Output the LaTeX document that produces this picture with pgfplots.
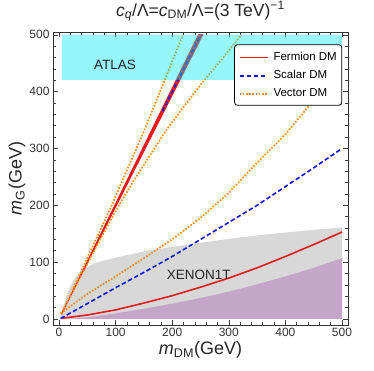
\documentclass[border=0pt]{standalone}
\usepackage{pgfplots}
\pgfplotsset{compat=1.18}
\usepackage{fontspec}
\setmainfont{Liberation Sans}
\definecolor{fred}{RGB}{230,25,25}
\definecolor{sblue}{RGB}{20,20,245}
\definecolor{vorange}{RGB}{255,140,0}
\definecolor{xgrey}{RGB}{216,216,216}
\definecolor{xpurple}{RGB}{196,166,200}
\definecolor{atlas}{RGB}{0,232,244}
\newcommand{\keysolid}{\textcolor{fred}{\rule[0.35ex]{28pt}{1.6pt}}}
\newcommand{\dsh}{\rule[0.35ex]{4.5pt}{1.6pt}}
\newcommand{\keydash}{\textcolor{sblue}{\dsh\hspace{2.6pt}\dsh\hspace{2.6pt}\dsh\hspace{2.6pt}\dsh}}
\newcommand{\dt}{\rule[0.35ex]{1.6pt}{1.6pt}}
\newcommand{\dg}{\hspace{1.6pt}}
\newcommand{\keydot}{\textcolor{vorange}{\dt\dg\dt\dg\dt\dg\dt\dg\dt\dg\dt\dg\dt\dg\dt\dg\dt}}
\begin{document}
\begin{tikzpicture}
\path[use as bounding box] (0,0) rectangle (374pt,370pt);
\begin{axis}[at={(53pt,45pt)}, anchor=south west, scale only axis,
  width=295pt, height=293pt,
  xmin=-10.6, xmax=510.6, ymin=-10.6, ymax=505,
  xtick={0,100,...,500}, ytick={0,100,...,500},
  minor x tick num=4, minor y tick num=4,
  tick align=inside,
  major tick length=5pt, minor tick length=3pt,
  tick style={black!75, line width=0.6pt},
  axis line style={black!80, line width=0.8pt},
  tick label style={font=\fontsize{12}{14}\selectfont, text=black!80},
  /pgf/number format/assume math mode=true,
  xlabel={\textit{m}\textsubscript{DM}(GeV)},
  ylabel={\textit{m}\textsubscript{G}(GeV)},
  label style={font=\fontsize{18}{20}\selectfont, text=black!85},
  xlabel style={at={(axis description cs:0.5,-0.085)}, anchor=center},
  ylabel style={at={(axis description cs:-0.122,0.5)}, anchor=center},
  title={\textit{c}\textsubscript{\textit{q}}/Λ=\textit{c}\textsubscript{DM}/Λ=(3 TeV)\textsuperscript{−1}},
  title style={at={(axis description cs:0.5,1.05)}, anchor=center, font=\fontsize{17.5}{19}\selectfont, text=black!85},
]
% XENON1T grey region
\addplot[draw=none, fill=xgrey, forget plot] coordinates {
(2,0) (5,8) (8,20) (13,40) (19,56) (28,72) (41,86) (60,97) (80,103) (100,108) (150,119) (200,127) (250,134) (300,141) (350,147) (400,152) (450,157) (500,161) (500,0)} --cycle;
% purple region
\addplot[draw=none, fill=xpurple, forget plot] coordinates {
(12,0) (50,3) (100,10) (150,18) (200,27) (250,37) (300,48) (350,61) (400,75) (450,90) (500,107) (500,0)} --cycle;
% fermion resonance band
\addplot[draw=fred, fill=fred, line width=1pt, forget plot] coordinates {
(5,9.85) (246.3,500) (253.8,500) (5,10.15)} --cycle;
% vector DM lines near resonance
\addplot[vorange, line width=1.7pt, dash pattern=on 1.6pt off 1.6pt, forget plot] coordinates {
(4,9) (30,64) (60,129) (90,193) (120,262) (150,330) (180,404) (200,453) (219,500)};
\addplot[vorange, line width=1.7pt, dash pattern=on 1.6pt off 1.6pt, forget plot] coordinates {
(4,9) (30,59) (60,116) (100,190) (130,240) (160,287) (190,333) (220,373) (254,417) (290,460) (322,500)};
% scalar DM along resonance
\addplot[sblue, line width=1.5pt, dash pattern=on 4pt off 2.5pt, forget plot] coordinates {
(183,366) (250,500)};
% main curves
\addplot[color=fred, line width=1.6pt, forget plot] coordinates {
(3,1) (50,7) (100,16) (150,28) (200,41) (250,56) (300,72) (350,90) (400,110) (450,131) (500,153)};
\addplot[color=sblue, line width=1.6pt, dash pattern=on 4.5pt off 2.5pt, forget plot] coordinates {
(3,1) (50,27) (100,55) (150,82) (200,110) (250,140) (300,170) (350,200) (400,233) (450,266) (500,300)};
\addplot[color=vorange, line width=1.7pt, dash pattern=on 1.6pt off 1.6pt, forget plot] coordinates {
(3,10) (50,44) (100,75) (150,107) (200,140) (250,178) (300,222) (350,275) (400,325) (450,385) (500,443)};
% ATLAS region overlay
\addplot[draw=none, fill=atlas, fill opacity=0.41, forget plot] coordinates {
(5,420) (500,420) (500,500) (5,500)} --cycle;
\node[font=\fontsize{13.5}{15}\selectfont, text=black!85] at (axis cs:99,447) {ATLAS};
\node[font=\fontsize{13.5}{15}\selectfont, text=black!85] at (axis cs:247,77) {XENON1T};
% legend
\node[draw=black, line width=0.8pt, rounded corners=3pt, fill=white, anchor=north west,
  inner xsep=5pt, inner ysep=3pt, font=\fontsize{11.5}{13}\selectfont]
  at (axis description cs:0.614,0.958) {%
  \renewcommand{\arraystretch}{1.4}%
  \begin{tabular}{@{}l@{\hspace{6pt}}l@{}}
  \keysolid & Fermion DM\\
  \keydash & Scalar DM\\
  \keydot & Vector DM
  \end{tabular}};
\end{axis}
\end{tikzpicture}
\end{document}
